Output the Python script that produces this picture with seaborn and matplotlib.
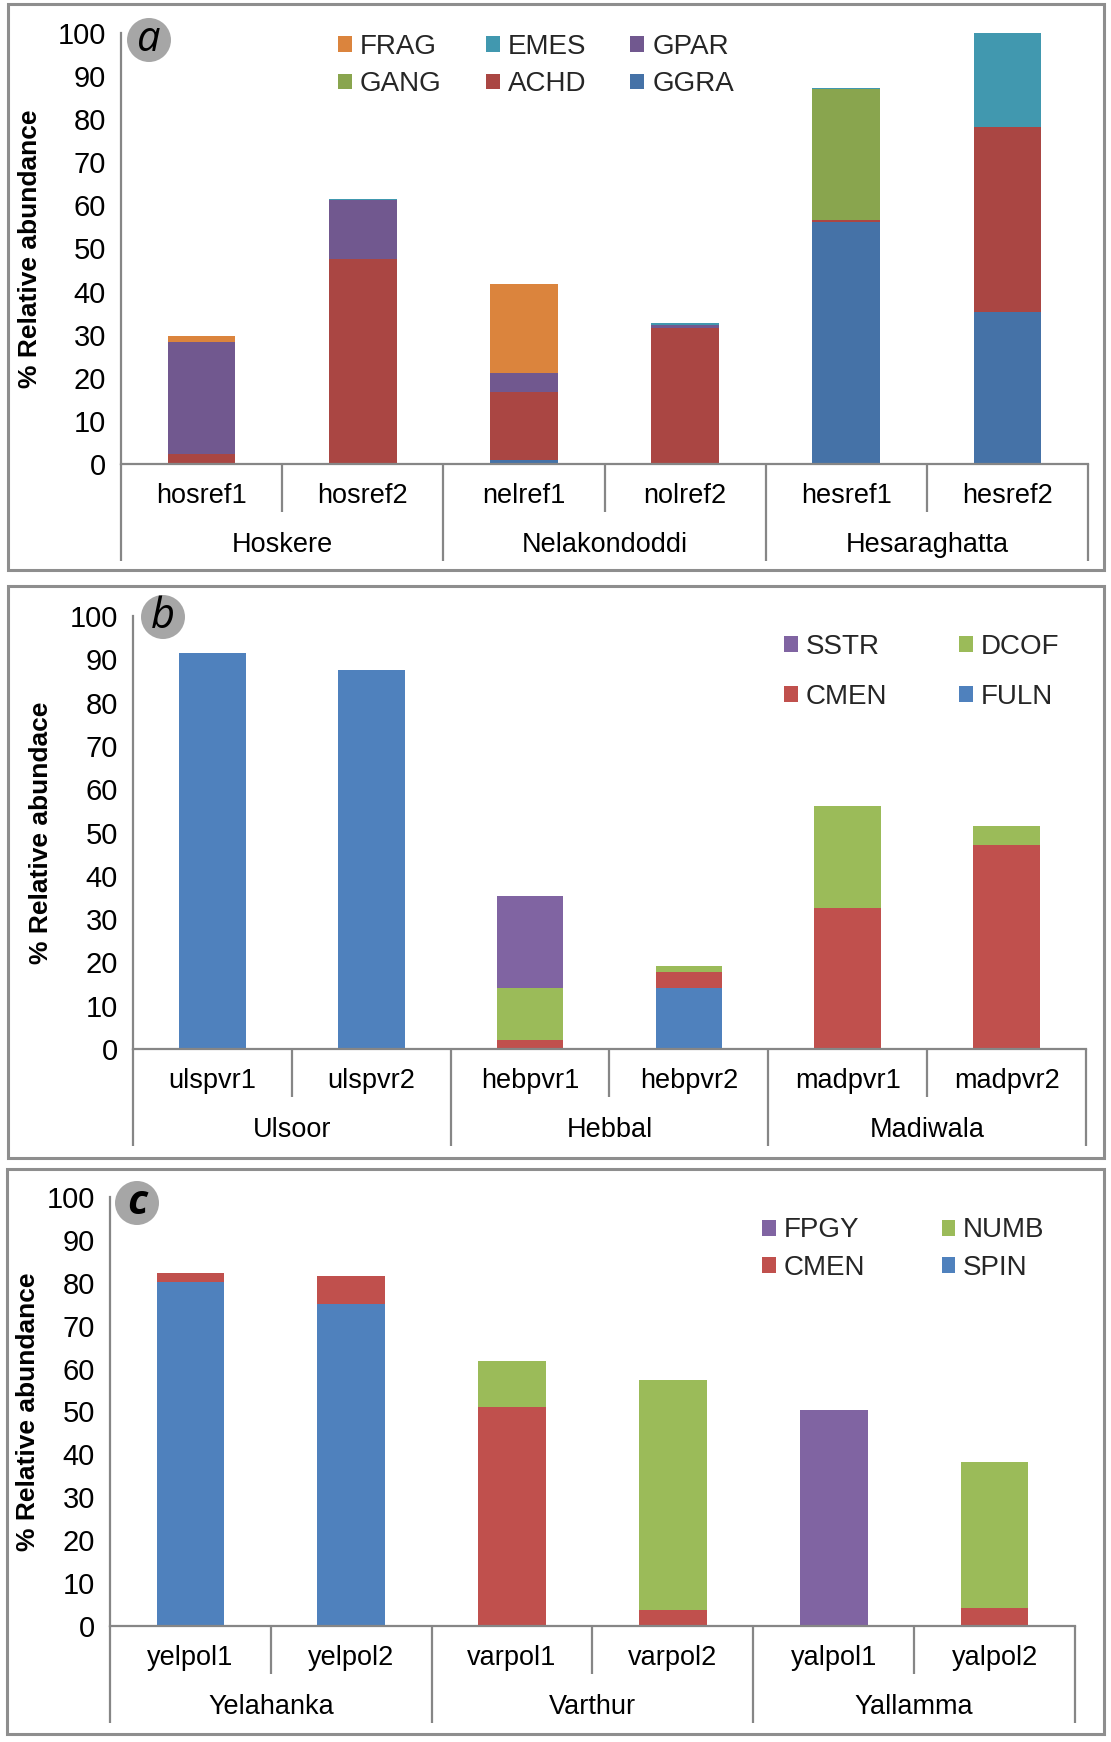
import numpy as np
import matplotlib
matplotlib.use("Agg")
import matplotlib.pyplot as plt
import seaborn as sns
from matplotlib.patches import Rectangle, Circle, Patch

# ---------------- data ----------------
# Panel a
a_samples = ["hosref1", "hosref2", "nelref1", "nolref2", "hesref1", "hesref2"]
a_groups = ["Hoskere", "Nelakondoddi", "Hesaraghatta"]
a_GGRA = [0.0, 0.0, 1.0, 0.0, 56.2, 35.3]
a_ACHD = [2.4, 47.6, 15.8, 31.5, 0.5, 43.0]
a_GANG = [0.0, 0.0, 0.0, 0.0, 30.2, 0.0]
a_GPAR = [26.0, 13.6, 4.3, 0.7, 0.0, 0.0]
a_EMES = [0.0, 0.4, 0.0, 0.6, 0.4, 21.7]
a_FRAG = [1.3, 0.0, 20.7, 0.0, 0.0, 0.0]

# Panel b
b_samples = ["ulspvr1", "ulspvr2", "hebpvr1", "hebpvr2", "madpvr1", "madpvr2"]
b_groups = ["Ulsoor", "Hebbal", "Madiwala"]
b_FULN = [91.4, 87.6, 0.0, 14.0, 0.0, 0.0]
b_CMEN = [0.0, 0.0, 2.0, 3.8, 32.5, 47.1]
b_DCOF = [0.0, 0.0, 12.2, 1.4, 23.6, 4.4]
b_SSTR = [0.0, 0.0, 21.2, 0.0, 0.0, 0.0]

# Panel c
c_samples = ["yelpol1", "yelpol2", "varpol1", "varpol2", "yalpol1", "yalpol2"]
c_groups = ["Yelahanka", "Varthur", "Yallamma"]
c_SPIN = [80.3, 75.1, 0.0, 0.0, 0.0, 0.0]
c_CMEN = [2.0, 6.4, 51.0, 3.7, 0.0, 4.2]
c_NUMB = [0.0, 0.0, 10.8, 53.6, 0.0, 34.0]
c_FPGY = [0.0, 0.0, 0.0, 0.0, 50.3, 0.0]

# ---------------- style ----------------
sns.set_theme(style="white")
plt.rcParams["font.family"] = ["Liberation Sans", "DejaVu Sans"]

W, H = 1111, 1742
DPI = 100
GRAY = "#868686"
FRAME = "#8E8E8E"

fig = plt.figure(figsize=(W / DPI, H / DPI), dpi=DPI)
fig.patch.set_facecolor("white")


def px_rect(L, R, ytop, ybot):
    return [L / W, 1 - ybot / H, (R - L) / W, (ybot - ytop) / H]


def draw_panel(rect, samples, groups, series, legend_order, legend_ncol,
               legend_anchor, legend_kw, ylabel, ylabel_x, letter, letter_xy,
               letter_kw, frame):
    # frame around the panel
    fx0, fy0, fx1, fy1 = frame
    fig.add_artist(Rectangle((fx0 / W, 1 - fy1 / H), (fx1 - fx0) / W, (fy1 - fy0) / H,
                             transform=fig.transFigure, fill=False, ec=FRAME, lw=2.2))
    ax = fig.add_axes(px_rect(*rect))
    axh = rect[3] - rect[2]
    axw = rect[1] - rect[0]

    # stacked bars: draw cumulative sums from the top segment down
    cum = np.zeros(len(samples))
    cums = []
    for name, vals, color in series:
        cum = cum + np.asarray(vals, dtype=float)
        cums.append(cum.copy())
    for (name, vals, color), c in reversed(list(zip(series, cums))):
        sns.barplot(x=samples, y=c, order=samples, color=color, saturation=1,
                    width=0.42, ax=ax, linewidth=0, errorbar=None)

    ax.set_xlim(-0.5, len(samples) - 0.5)
    ax.set_ylim(0, 100)
    ax.set_yticks(range(0, 101, 10))
    for s in ["top", "right"]:
        ax.spines[s].set_visible(False)
    for s in ["left", "bottom"]:
        ax.spines[s].set_color(GRAY)
        ax.spines[s].set_linewidth(1.6)
    ax.tick_params(axis="y", direction="out", length=5.8, width=1.4, color=GRAY,
                   labelsize=21, pad=5, labelcolor="black")
    ax.set_xticks(range(len(samples)))
    ax.set_xticklabels(samples, fontsize=19.5, color="black")
    ax.tick_params(axis="x", length=0, pad=32 * 72 / DPI)
    for lab in ax.get_xticklabels():
        lab.set_va("center")
    ax.set_xlabel("")

    # multi-level category separators
    tick_depth, group_depth = 48, 97
    tr = ax.get_xaxis_transform()
    for k in range(len(samples) + 1):
        xb = k - 0.5
        d = group_depth if k % 2 == 0 else tick_depth
        ax.plot([xb, xb], [0, -d / axh], transform=tr, clip_on=False,
                color=GRAY, lw=1.6, solid_capstyle="butt")
    for i, g in enumerate(groups):
        ax.text(2 * i + 0.5, -81 / axh, g, transform=tr, ha="center", va="center",
                fontsize=19.5, color="black")

    ax.set_ylabel(ylabel, fontsize=19, fontweight="bold", color="black")
    ax.yaxis.label.set_va("center")
    ax.yaxis.set_label_coords((ylabel_x - rect[0]) / axw, 0.5)

    colors = {name: color for name, vals, color in series}
    handles = [Patch(facecolor=colors[n], edgecolor="none") for n in legend_order]
    ax.legend(handles, legend_order, ncol=legend_ncol, loc="center left",
              bbox_to_anchor=(legend_anchor[0] / W, 1 - legend_anchor[1] / H),
              bbox_transform=fig.transFigure, frameon=False, fontsize=20,
              handlelength=0.5, handleheight=0.5, handletextpad=0.28,
              borderpad=0, borderaxespad=0, **legend_kw)

    lx, ly = letter_xy
    fig.add_artist(Circle((lx / DPI, (H - ly) / DPI), 22 / DPI,
                          transform=fig.dpi_scale_trans, fc="#A6A6A6", ec="none"))
    fig.text(lx / DPI, (H - ly) / DPI, letter, transform=fig.dpi_scale_trans,
             ha="center", va="center", fontsize=30, style="italic",
             family=["Open Sans", "DejaVu Sans"], color="black", **letter_kw)
    return ax


# Panel a
draw_panel(
    rect=(121, 1088, 33, 464), samples=a_samples, groups=a_groups,
    series=[("GGRA", a_GGRA, "#4572A7"), ("ACHD", a_ACHD, "#AA4643"),
            ("GANG", a_GANG, "#89A54E"), ("GPAR", a_GPAR, "#71588F"),
            ("EMES", a_EMES, "#4198AF"), ("FRAG", a_FRAG, "#DB843D")],
    legend_order=["FRAG", "GANG", "EMES", "ACHD", "GPAR", "GGRA"], legend_ncol=3,
    legend_anchor=(338, 65.5), legend_kw=dict(columnspacing=1.6, labelspacing=0.42),
    ylabel="% Relative abundance", ylabel_x=30, letter="a", letter_xy=(149, 40),
    letter_kw={}, frame=(8, 4, 1104, 570))

# Panel b
draw_panel(
    rect=(133, 1086, 616, 1049), samples=b_samples, groups=b_groups,
    series=[("FULN", b_FULN, "#4F81BD"), ("CMEN", b_CMEN, "#C0504D"),
            ("DCOF", b_DCOF, "#9BBB59"), ("SSTR", b_SSTR, "#8064A2")],
    legend_order=["SSTR", "CMEN", "DCOF", "FULN"], legend_ncol=2,
    legend_anchor=(784, 672), legend_kw=dict(columnspacing=2.6, labelspacing=0.85),
    ylabel="% Relative abundace", ylabel_x=41, letter="b", letter_xy=(163, 617),
    letter_kw={}, frame=(8, 586, 1104, 1158))

# Panel c
draw_panel(
    rect=(110, 1075, 1197, 1626), samples=c_samples, groups=c_groups,
    series=[("SPIN", c_SPIN, "#4F81BD"), ("CMEN", c_CMEN, "#C0504D"),
            ("NUMB", c_NUMB, "#9BBB59"), ("FPGY", c_FPGY, "#8064A2")],
    legend_order=["FPGY", "CMEN", "NUMB", "SPIN"], legend_ncol=2,
    legend_anchor=(762, 1249), legend_kw=dict(columnspacing=2.75, labelspacing=0.4),
    ylabel="% Relative abundance", ylabel_x=28, letter="c", letter_xy=(137, 1203),
    letter_kw=dict(fontweight="bold"), frame=(7, 1169, 1104, 1734))

fig.savefig("out.png", dpi=DPI, facecolor="white")
